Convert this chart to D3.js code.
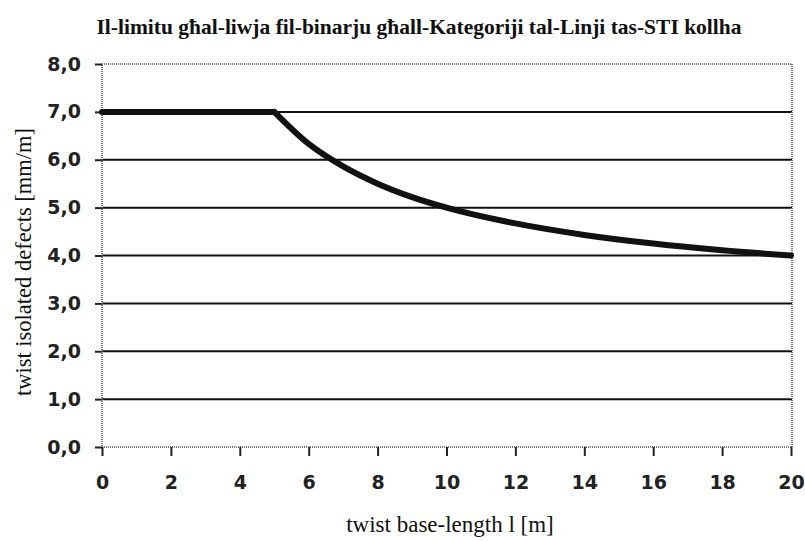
<!DOCTYPE html>
<html>
<head>
<meta charset="utf-8">
<script src="https://cdn.jsdelivr.net/npm/d3@7"></script>
<style>
  body { margin: 0; background: #fff; }
  svg { display: block; }
</style>
</head>
<body>
<svg id="chart" width="805" height="541"></svg>
<script>
var title = 'Il-limitu għal-liwja fil-binarju għall-Kategoriji tal-Linji tas-STI kollha';
var xLabel = 'twist base-length l [m]';
var yLabel = 'twist isolated defects [mm/m]';

// base length l [m] and limit [mm/m]
var baseLength = [0, 5, 6, 7, 8, 9, 10, 12, 14, 16, 18, 20];
var twistLimit = [7.0, 7.0, 6.33, 5.86, 5.5, 5.22, 5.0, 4.67, 4.43, 4.25, 4.11, 4.0];

var xTicks = [0, 2, 4, 6, 8, 10, 12, 14, 16, 18, 20];
var yTicks = [0, 1, 2, 3, 4, 5, 6, 7, 8];

var svg = d3.select('#chart');
var margin = {left: 102, top: 64, right: 13, bottom: 94};
var width = 805 - margin.left - margin.right,
    height = 541 - margin.top - margin.bottom;

var x = d3.scaleLinear().domain([0, 20]).range([0, width - 1]);
var y = d3.scaleLinear().domain([0, 8]).range([height, 0]);

var g = svg.append('g')
    .attr('transform', 'translate(' + margin.left + ',' + margin.top + ')');

// gridlines
g.selectAll('.grid')
    .data(yTicks.filter(function(d) { return d > 0 && d < 8; }))
    .enter().append('line')
    .attr('x1', 0).attr('x2', width)
    .attr('y1', function(d) { return y(d); })
    .attr('y2', function(d) { return y(d); })
    .attr('stroke', '#111')
    .attr('stroke-width', 2);

// plot border, dotted gray
g.append('rect')
    .attr('x', 0).attr('y', 0)
    .attr('width', width).attr('height', height)
    .attr('fill', 'none')
    .attr('stroke', '#777')
    .attr('stroke-width', 2)
    .attr('stroke-dasharray', '1,1');

var fmt = function(d) { return d3.format('.1f')(d).replace('.', ','); };

var yAxis = g.append('g')
    .call(d3.axisLeft(y).tickValues(yTicks).tickSize(7).tickPadding(14).tickFormat(fmt));
var xAxis = g.append('g')
    .attr('transform', 'translate(0,' + height + ')')
    .call(d3.axisBottom(x).tickValues(xTicks).tickSize(9).tickPadding(20).tickFormat(d3.format('d')));

[yAxis, xAxis].forEach(function(ax) {
    ax.select('.domain').remove();
    ax.selectAll('.tick line').attr('stroke', '#222').attr('stroke-width', 2);
    ax.selectAll('.tick text')
        .attr('fill', '#222')
        .style('font-family', '"DejaVu Sans", sans-serif')
        .style('font-weight', 'bold')
        .style('font-size', '19px');
});

// limit curve: flat part then the falling branch (sharp knee at l = 5)
var pts = baseLength.map(function(d, i) { return [d, twistLimit[i]]; });
var line = d3.line()
    .x(function(d) { return x(d[0]); })
    .y(function(d) { return y(d[1]); });
g.append('path')
    .datum(pts.filter(function(d) { return d[0] <= 5; }))
    .attr('fill', 'none')
    .attr('stroke', '#111')
    .attr('stroke-width', 6)
    .attr('stroke-linecap', 'round')
    .attr('d', line);
g.append('path')
    .datum(pts.filter(function(d) { return d[0] >= 5; }))
    .attr('fill', 'none')
    .attr('stroke', '#111')
    .attr('stroke-width', 6)
    .attr('stroke-linecap', 'round')
    .attr('d', line.curve(d3.curveMonotoneX));

svg.append('text')
    .attr('x', 419).attr('y', 34)
    .attr('text-anchor', 'middle')
    .style('font-family', '"Liberation Serif", "DejaVu Serif", serif')
    .style('font-weight', 'bold')
    .style('font-size', '21.5px')
    .attr('fill', '#111')
    .text(title);

svg.append('text')
    .attr('x', 450).attr('y', 532)
    .attr('text-anchor', 'middle')
    .style('font-family', '"Liberation Serif", serif')
    .style('font-size', '23px')
    .attr('fill', '#111')
    .text(xLabel);

svg.append('text')
    .attr('transform', 'translate(31,262) rotate(-90)')
    .attr('text-anchor', 'middle')
    .style('font-family', '"Liberation Serif", serif')
    .style('font-size', '22.5px')
    .attr('fill', '#111')
    .text(yLabel);
</script>
</body>
</html>
